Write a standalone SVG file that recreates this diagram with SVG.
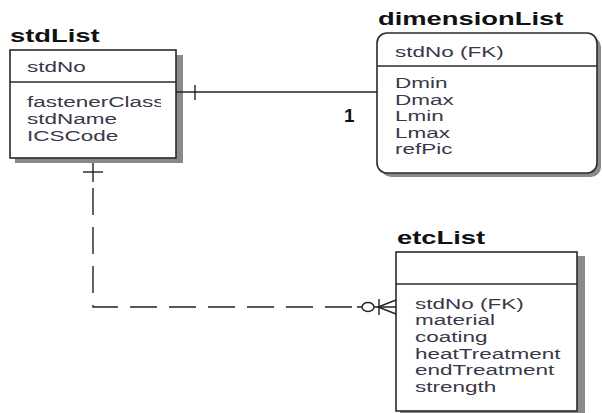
<svg xmlns="http://www.w3.org/2000/svg" width="602" height="413" viewBox="0 0 602 413">
<style>
.title{font-family:"Liberation Sans",Arial,sans-serif;font-weight:bold;font-size:18px;fill:#111}
.attr{font-family:"Liberation Sans",Arial,sans-serif;font-size:15px;fill:#3a3848}
.box{fill:#fff;stroke:#2a2a2a;stroke-width:1.6}
.shadow{fill:#8a8a8a}
.sep{stroke:#2a2a2a;stroke-width:1.3}
.conn{fill:none;stroke:#222;stroke-width:1.4}
.dash{stroke-dasharray:27 12}
</style>
<defs>
<clipPath id="stdClip"><rect x="11" y="51" width="150" height="106"/></clipPath>
</defs>
<rect width="602" height="413" fill="#fff"/>

<g id="stdList">
<text class="title" transform="translate(10 42) scale(1.52 1)">stdList</text>
<rect class="shadow" x="15" y="55" width="168" height="108"/>
<rect class="box" x="10" y="50" width="166" height="108"/>
<line class="sep" x1="10" y1="82" x2="176" y2="82"/>
<g clip-path="url(#stdClip)">
<text class="attr" transform="translate(27 72) scale(1.5 1)">stdNo</text>
<text class="attr" transform="translate(27 107) scale(1.5 1)">fastenerClass</text>
<text class="attr" transform="translate(27 124) scale(1.5 1)">stdName</text>
<text class="attr" transform="translate(27 141) scale(1.5 1)">ICSCode</text>
</g>
</g>

<g id="dimensionList">
<text class="title" transform="translate(378 25) scale(1.52 1)">dimensionList</text>
<rect class="shadow" x="381" y="37" width="220" height="140" rx="10"/>
<rect class="box" x="377" y="33" width="220" height="140" rx="10"/>
<line class="sep" x1="377" y1="66" x2="597" y2="66"/>
<text class="attr" transform="translate(395 57) scale(1.5 1)">stdNo (FK)</text>
<text class="attr" transform="translate(395 88) scale(1.5 1)">Dmin</text>
<text class="attr" transform="translate(395 104.5) scale(1.5 1)">Dmax</text>
<text class="attr" transform="translate(395 121) scale(1.5 1)">Lmin</text>
<text class="attr" transform="translate(395 137.5) scale(1.5 1)">Lmax</text>
<text class="attr" transform="translate(395 154) scale(1.5 1)">refPic</text>
</g>

<g id="etcList">
<text class="title" transform="translate(397 244) scale(1.52 1)">etcList</text>
<rect class="shadow" x="400" y="256" width="185" height="160"/>
<rect class="box" x="396" y="252" width="181" height="159"/>
<line class="sep" x1="396" y1="284" x2="577" y2="284"/>
<text class="attr" transform="translate(415 308.5) scale(1.5 1)">stdNo (FK)</text>
<text class="attr" transform="translate(415 325) scale(1.5 1)">material</text>
<text class="attr" transform="translate(415 342) scale(1.5 1)">coating</text>
<text class="attr" transform="translate(415 358.5) scale(1.5 1)">heatTreatment</text>
<text class="attr" transform="translate(415 375) scale(1.5 1)">endTreatment</text>
<text class="attr" transform="translate(415 392) scale(1.5 1)">strength</text>
</g>

<g id="connectors">
<line class="conn" x1="176" y1="92" x2="377" y2="92"/>
<line class="conn" x1="195" y1="85" x2="195" y2="100"/>
<text x="344" y="122" font-family="'Liberation Sans',Arial,sans-serif" font-weight="bold" font-size="19" fill="#111">1</text>

<line class="conn" x1="83" y1="172" x2="103" y2="172"/>
<line class="conn" x1="93" y1="163" x2="93" y2="182"/>
<polyline class="conn dash" points="93,188 93,307 357,307"/>
<line class="conn" x1="357" y1="307" x2="396" y2="307"/>
<ellipse cx="368" cy="307" rx="6" ry="4.5" fill="#fff" stroke="#222" stroke-width="1.4"/>
<line class="conn" x1="379" y1="299" x2="379" y2="315"/>
<polyline class="conn" points="396,300 378,307 396,314"/>
</g>
</svg>
